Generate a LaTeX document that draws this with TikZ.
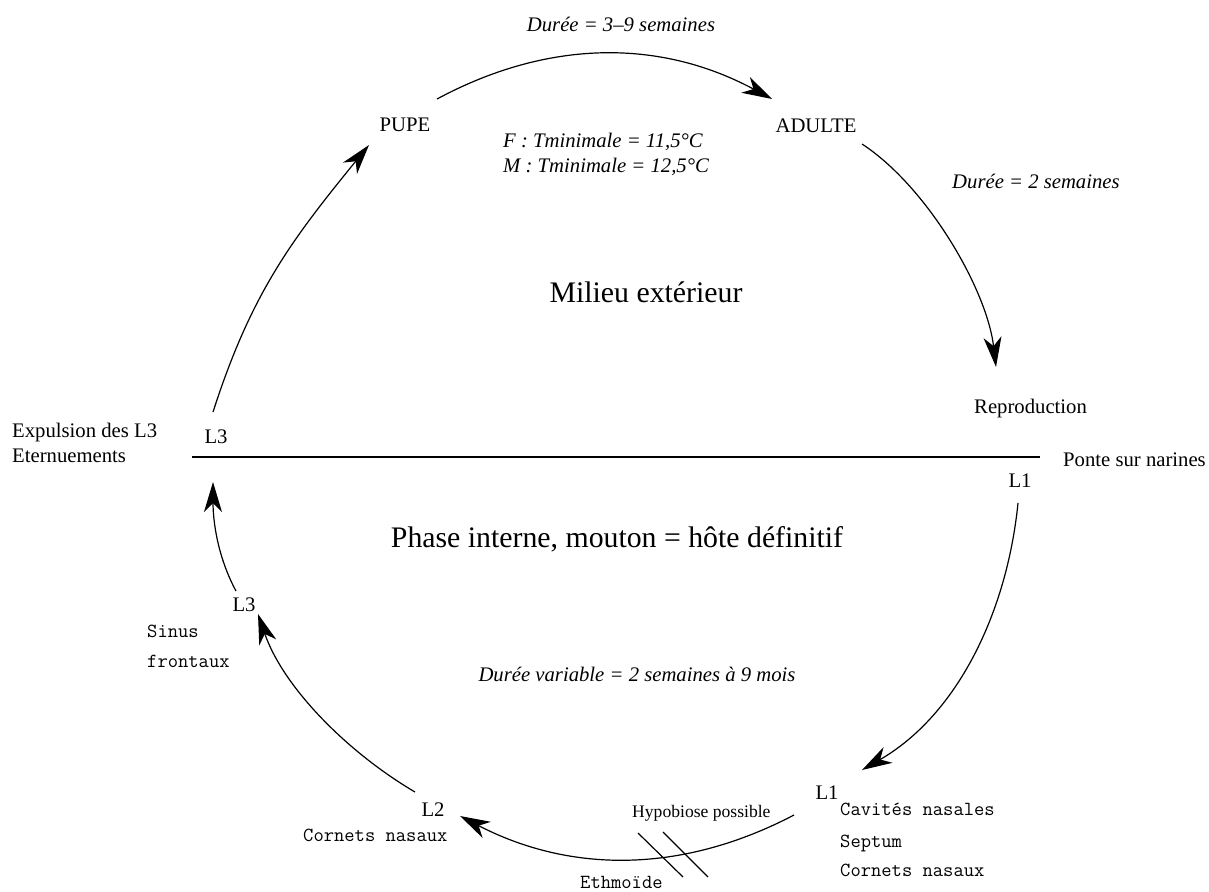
\documentclass[tikz,border=0pt]{standalone}
\usepackage{fontspec}
\setmainfont{Liberation Serif}
\usetikzlibrary{arrows.meta}

\begin{document}
\begin{tikzpicture}[x=1pt, y={(0pt,-1pt)},
  lbl/.style={inner sep=0pt, font=\fontsize{20.7}{24}\selectfont},
  note/.style={inner sep=0pt, font=\fontsize{20.7}{24}\selectfont\itshape},
  big/.style={inner sep=0pt, font=\fontsize{29.8}{34}\selectfont},
  site/.style={inner sep=0pt, font=\fontsize{20}{22}\selectfont\ttfamily},
  small/.style={inner sep=0pt, font=\fontsize{17.6}{20}\selectfont},
  cyc/.style={line width=1.2pt, -{Stealth[length=30pt,width=18pt,inset=9pt]}},
  plain/.style={line width=1.2pt},
]
\useasboundingbox (0,0) rectangle (1209,891);

% --- stage labels ---
\node[lbl, anchor=base] (pupe)   at (405,131) {PUPE};
\node[lbl, anchor=base] (adulte) at (816,132) {ADULTE};
\node[lbl, anchor=base west] (repro) at (974,413) {Reproduction};
\node[lbl, anchor=base west] (ponte) at (1063,466) {Ponte sur narines};
\node[lbl, anchor=base] (l1top) at (1020,487) {L1};
\node[lbl, anchor=base] (l1bot) at (827,799) {L1};
\node[lbl, anchor=base] (l2)    at (433,816) {L2};
\node[lbl, anchor=base] (l3mid) at (244,611) {L3};
\node[lbl, anchor=base] (l3top) at (216,443) {L3};
\node[lbl, anchor=base west] (expul) at (12,437) {Expulsion des L3};
\node[lbl, anchor=base west] (etern) at (12,462) {Eternuements};

% --- durations and temperatures ---
\node[note, anchor=base] (dur1) at (621,32) {Durée = 3–9 semaines};
\node[note, anchor=base west] (tf) at (503,147) {F : Tminimale = 11,5°C};
\node[note, anchor=base west] (tm) at (503,172) {M : Tminimale = 12,5°C};
\node[note, anchor=base west] (dur2) at (952,188) {Durée = 2 semaines};
\node[note, anchor=base] (durvar) at (637,681) {Durée variable = 2 semaines à 9 mois};

% --- phase titles ---
\node[big, anchor=base] (milieu) at (646,302) {Milieu extérieur};
\node[big, anchor=base] (phase)  at (617,547) {Phase interne, mouton = hôte définitif};

% --- sites in the host ---
\node[site, anchor=base west] (sinus) at (147,637) {Sinus};
\node[site, anchor=base west] (front) at (147,667) {frontaux};
\node[site, anchor=base west] (cornl) at (303,841) {Cornets nasaux};
\node[site, anchor=base west] (cav)   at (840,815) {Cavités nasales};
\node[site, anchor=base west] (sept)  at (840,847) {Septum};
\node[site, anchor=base west] (cornr) at (840,876) {Cornets nasaux};
\node[site, anchor=base west] (ethm)  at (580,888) {Ethmoïde};
\node[small, anchor=base west] (hypo) at (632,817) {Hypobiose possible};

% --- boundary between outside and inside ---
\coordinate (hl) at (192,457);
\coordinate (hr) at (1040,457);
\draw[plain] (hl) -- (hr);

% --- end points of the cycle arrows ---
\coordinate (a1s) at (437,99);   \coordinate (a1e) at (772,99);
\coordinate (a2s) at (862,144);  \coordinate (a2e) at (996,367);
\coordinate (a3s) at (1018,503); \coordinate (a3e) at (862,770);
\coordinate (a4s) at (794,815);  \coordinate (a4e) at (460,816);
\coordinate (a5s) at (415,792);  \coordinate (a5e) at (258,614);
\coordinate (a6s) at (236,591);  \coordinate (a6e) at (213,482);
\coordinate (a7s) at (213,412);  \coordinate (a7e) at (369,145);

\draw[cyc] (a1s) .. controls (548.7,39) and (660.3,39) .. (a1e);
\draw[cyc] (a2s) .. controls (927.3,186.7) and (986.9,289.5) .. (a2e);
\draw[cyc] (a3s) .. controls (1007,612.5) and (957.3,715) .. (a3e);
\draw[cyc] (a4s) .. controls (682.7,873.3) and (571.3,873.7) .. (a4e);
\draw[cyc] (a5s) .. controls (347.8,752.5) and (283.4,687.7) .. (a5e);
\draw[cyc] (a6s) .. controls (217.5,556.7) and (213,521) .. (a6e);
\draw[cyc] (a7s) .. controls (251,294) and (290.6,241.1) .. (a7e);

% --- cut marks on the L1 -> L2 arrow ---
\coordinate (h1a) at (638,833); \coordinate (h1b) at (683,877);
\coordinate (h2a) at (663,832); \coordinate (h2b) at (708,877);
\draw[plain] (h1a) -- (h1b);
\draw[plain] (h2a) -- (h2b);
\end{tikzpicture}
\end{document}
